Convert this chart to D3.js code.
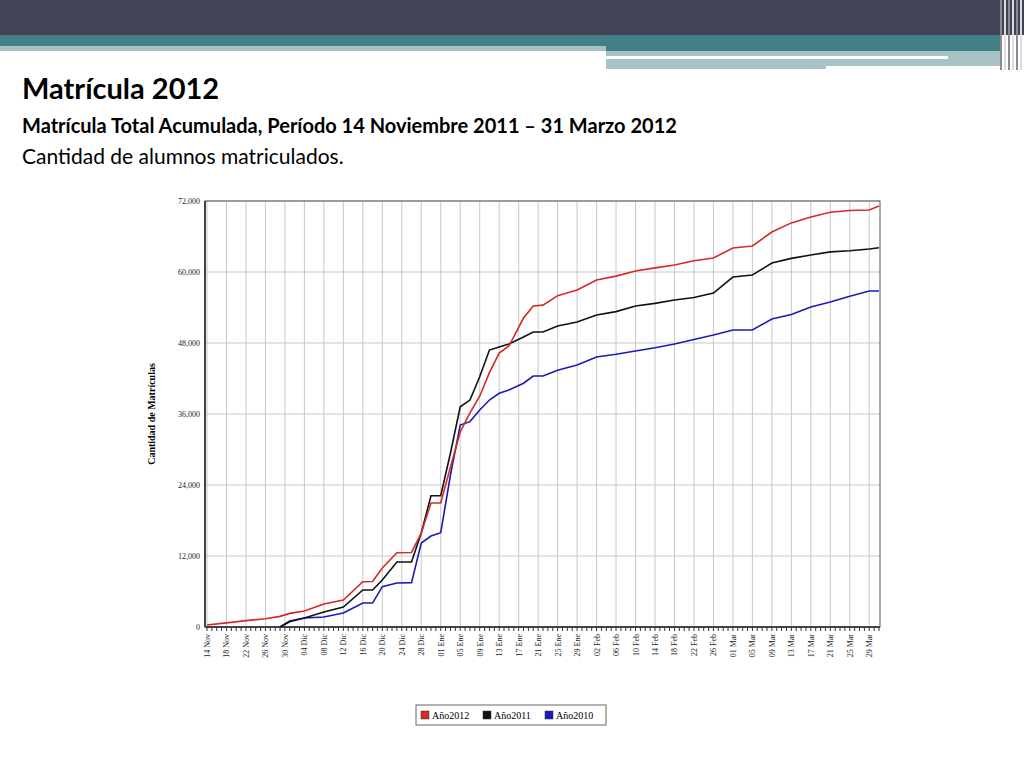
<!DOCTYPE html>
<html><head><meta charset="utf-8">
<script src="https://cdn.jsdelivr.net/npm/d3@7"></script>
<style>body{margin:0;background:#fff}svg{display:block}</style>
</head><body>
<script>
// fechas de muestreo (año 2011/2012) y matrícula acumulada por serie
const fechas = ["2011-11-14","2011-11-18","2011-11-22","2011-11-26","2011-11-29","2011-12-01","2011-12-04","2011-12-08","2011-12-12","2011-12-16","2011-12-18","2011-12-20","2011-12-23","2011-12-26","2011-12-28","2011-12-30","2012-01-01","2012-01-03","2012-01-05","2012-01-07","2012-01-09","2012-01-11","2012-01-13","2012-01-15","2012-01-18","2012-01-20","2012-01-22","2012-01-25","2012-01-29","2012-02-02","2012-02-06","2012-02-10","2012-02-14","2012-02-18","2012-02-22","2012-02-26","2012-03-01","2012-03-05","2012-03-09","2012-03-13","2012-03-17","2012-03-21","2012-03-25","2012-03-29","2012-03-31"];
const anio2012 = [340,700,1070,1400,1800,2300,2700,3890,4560,7660,7700,9970,12560,12600,15890,20950,20950,27040,32960,36200,39000,43000,46300,47490,52220,54250,54400,56000,56960,58650,59300,60170,60700,61180,61900,62370,64050,64400,66760,68300,69300,70100,70400,70480,71150];
const anio2011 = [0,0,0,0,0,1010,1520,2530,3380,6250,6250,7940,10990,11000,15890,22190,22190,29410,37230,38360,42300,46800,47320,47830,49000,49860,49860,50870,51550,52730,53300,54250,54700,55270,55700,56450,59150,59490,61520,62300,62870,63400,63600,63890,64100];
const anio2010 = [0,0,0,0,0,900,1520,1690,2360,4050,4050,6820,7430,7500,14190,15380,15940,25690,34140,34710,36680,38360,39500,40060,41200,42420,42420,43410,44280,45630,46100,46650,47200,47830,48600,49350,50200,50200,52060,52800,54090,54930,55900,56790,56790];
const yTicks = [0,12000,24000,36000,48000,60000,72000];
const meses = ["Ene","Feb","Mar","Abr","May","Jun","Jul","Ago","Sep","Oct","Nov","Dic"];

const series = [
  {name:"Año2012", color:"#d42a2a", values:anio2012},
  {name:"Año2011", color:"#111111", values:anio2011},
  {name:"Año2010", color:"#1a1ab8", values:anio2010}
];

const parse = d3.timeParse("%Y-%m-%d");
const dates = fechas.map(parse);

const svg = d3.select("body").append("svg").attr("width",1024).attr("height",768);

// cabecera de la diapositiva
svg.append("rect").attr("x",0).attr("y",0).attr("width",1024).attr("height",35).attr("fill","#434356");
svg.append("rect").attr("x",0).attr("y",35).attr("width",1000).attr("height",11).attr("fill","#437f86");
svg.append("rect").attr("x",0).attr("y",46).attr("width",606).attr("height",5).attr("fill","#a9c2c5");
svg.append("rect").attr("x",606).attr("y",46).attr("width",394).attr("height",5).attr("fill","#437f86");
svg.append("rect").attr("x",606).attr("y",51).attr("width",394).attr("height",18).attr("fill","#a9c2c5");
svg.append("rect").attr("x",606).attr("y",56).attr("width",342).attr("height",3).attr("fill","#fff");
svg.append("rect").attr("x",826).attr("y",66).attr("width",174).attr("height",4).attr("fill","#fff");
[1000,1004,1008,1012,1016,1020].forEach((x,i)=>svg.append("rect").attr("x",x).attr("y",0).attr("width",2).attr("height",70).attr("fill",i%2?"#ddd":"#8a8a96"));

svg.append("text").attr("x",22).attr("y",99).attr("font-family","Lato").attr("font-weight","bold").attr("font-size",29).text("Matrícula 2012");
svg.append("text").attr("x",22).attr("y",133).attr("font-family","Lato").attr("font-weight","bold").attr("font-size",20).text("Matrícula Total Acumulada, Período 14 Noviembre 2011 – 31 Marzo 2012");
svg.append("text").attr("x",22).attr("y",164).attr("font-family","Lato").attr("font-size",21).text("Cantidad de alumnos matriculados.");

const pLeft = 205, pRight = 880, pTop = 201, pBottom = 627;
const x = d3.scaleTime().domain([parse("2011-11-14"), parse("2012-03-31")]).range([207, 879]);
const y = d3.scaleLinear().domain([0,72000]).range([pBottom, pTop]);

const g = svg.append("g").attr("font-family","Liberation Serif, DejaVu Serif, serif");

const labelDays = d3.timeDay.range(parse("2011-11-14"), parse("2012-04-01")).filter((d,i)=>i%4===0);
const allDays = d3.timeDay.range(parse("2011-11-14"), parse("2012-04-01"));

// rejilla
g.selectAll(".vg").data(labelDays).join("line")
  .attr("x1",d=>x(d)).attr("x2",d=>x(d)).attr("y1",pTop).attr("y2",pBottom)
  .attr("stroke","#c8c8c8").attr("stroke-width",1);
g.selectAll(".hg").data(yTicks).join("line")
  .attr("x1",pLeft).attr("x2",pRight).attr("y1",d=>y(d)).attr("y2",d=>y(d))
  .attr("stroke","#c8c8c8").attr("stroke-width",1);

// ejes
g.append("rect").attr("x",pLeft).attr("y",pTop).attr("width",pRight-pLeft).attr("height",pBottom-pTop)
  .attr("fill","none").attr("stroke","#555").attr("stroke-width",1);
g.append("line").attr("x1",pLeft).attr("x2",pLeft).attr("y1",pTop).attr("y2",pBottom).attr("stroke","#444").attr("stroke-width",2);
g.append("line").attr("x1",pLeft).attr("x2",pRight).attr("y1",pBottom).attr("y2",pBottom).attr("stroke","#444").attr("stroke-width",2);

g.selectAll(".mt").data(allDays).join("line")
  .attr("x1",d=>x(d)).attr("x2",d=>x(d)).attr("y1",pBottom).attr("y2",pBottom+4)
  .attr("stroke","#333");

const fmt = d => d3.timeFormat("%d")(d) + " " + meses[d.getMonth()];
g.selectAll(".xl").data(labelDays).join("text")
  .attr("transform",d=>`translate(${x(d)+3},${pBottom+7}) rotate(-90)`)
  .attr("text-anchor","end").attr("font-size",8).attr("fill","#222").text(fmt);

g.selectAll(".yl").data(yTicks).join("text")
  .attr("x",pLeft-5).attr("y",d=>y(d)+3).attr("text-anchor","end")
  .attr("font-size",8).attr("fill","#222").text(d3.format(","));

g.append("text").attr("transform",`translate(155,${(pTop+pBottom)/2}) rotate(-90)`)
  .attr("text-anchor","middle").attr("font-size",10).attr("font-weight","bold").text("Cantidad de Matrículas");

// líneas (2010 primero, 2012 encima)
[series[2], series[1], series[0]].forEach(s=>{
  const pts = s.values.map((v,i)=>[i,v]);
  // las series 2011/2010 comienzan a fines de noviembre
  const start = s.name==="Año2012" ? 0 : 4;
  g.append("path").datum(pts.slice(start))
    .attr("fill","none").attr("stroke",s.color).attr("stroke-width",1.6)
    .attr("d",d3.line().x(p=>x(dates[p[0]])).y(p=>y(p[1])));
});

// leyenda
const lg = g.append("g").attr("transform","translate(416,705)");
lg.append("rect").attr("width",190).attr("height",20).attr("fill","#fff").attr("stroke","#666");
series.forEach((s,i)=>{
  const gx = 5 + i*62;
  lg.append("rect").attr("x",gx).attr("y",6).attr("width",8).attr("height",8).attr("fill",s.color).attr("stroke","#333").attr("stroke-width",0.5);
  lg.append("text").attr("x",gx+11).attr("y",14).attr("font-size",10).text(s.name);
});
</script>
</body></html>
